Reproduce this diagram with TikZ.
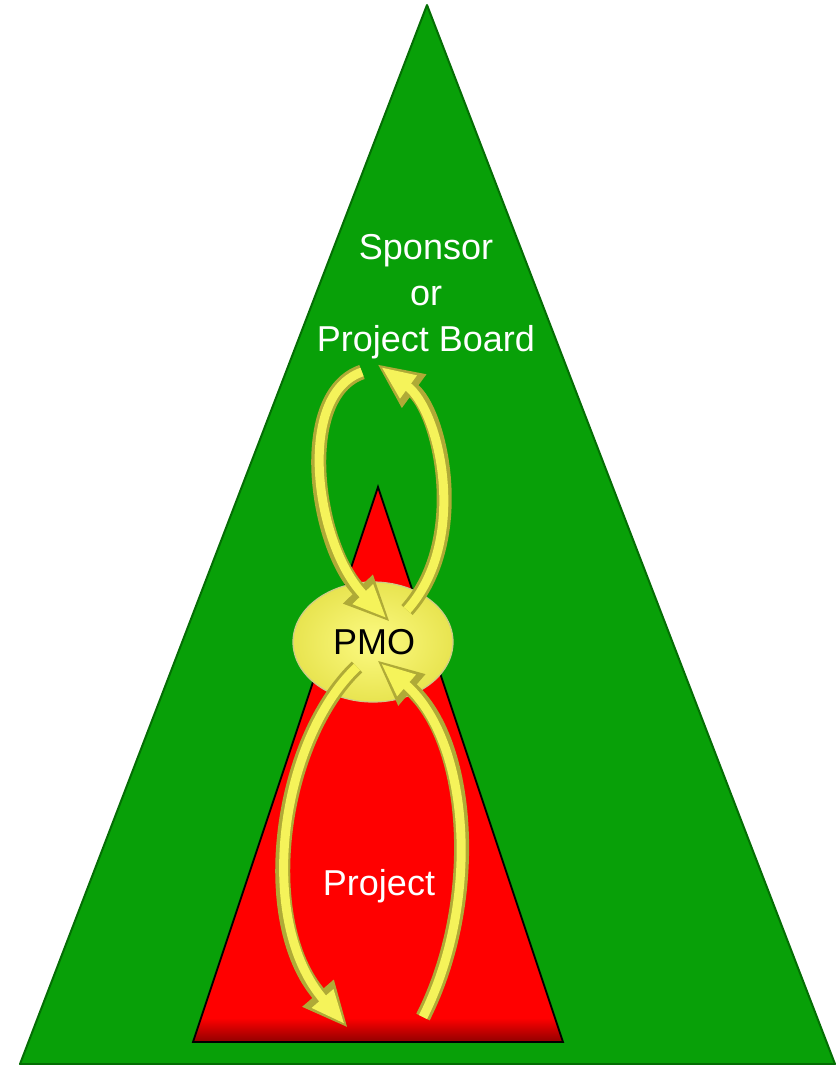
\documentclass[tikz,border=0pt]{standalone}
\usepackage{fontspec}
\setmainfont{Liberation Sans}
\usetikzlibrary{arrows.meta}
\definecolor{grn}{RGB}{8,160,8}
\definecolor{grndark}{RGB}{4,110,4}
\definecolor{yelfill}{RGB}{245,243,90}
\definecolor{yelin}{RGB}{252,250,130}
\definecolor{yeledge}{RGB}{232,228,80}
\definecolor{yeldark}{RGB}{175,170,55}
\definecolor{reddark}{RGB}{140,0,0}
\tikzset{
  lbl/.style={font=\fontsize{36}{44}\selectfont, anchor=base, inner sep=0pt},
  arrout/.style={draw=yeldark, line width=15pt, line cap=butt,
    -{Triangle[width=38pt,length=46pt]}},
  arrin/.style={draw=yelfill, line width=9pt, line cap=butt, shorten >=5pt,
    -{Triangle[width=26pt,length=34pt]}},
}
\begin{document}
\begin{tikzpicture}[x=1pt,y=-1pt]
\useasboundingbox (0,0) rectangle (839,1065);
% green triangle
\coordinate (ga) at (427,5);
\coordinate (gl) at (20,1064);
\coordinate (gr) at (835,1064);
\filldraw[fill=grn, draw=grndark, line width=2pt, line join=round] (ga) -- (gl) -- (gr) -- cycle;
% red triangle
\coordinate (ra) at (378,487);
\coordinate (rl) at (193,1042);
\coordinate (rr) at (563,1042);
\fill[red] (ra) -- (rl) -- (rr) -- cycle;
\begin{scope}
\clip (ra) -- (rl) -- (rr) -- cycle;
\shade[top color=red, bottom color=reddark] (190,1018) rectangle (570,1043);
\end{scope}
\draw[black, line width=1.8pt, line join=miter] (ra) -- (rl) -- (rr) -- cycle;
% PMO ellipse
\shade[inner color=yelin, outer color=yeledge] (373,642) ellipse [x radius=80, y radius=60];
\draw[yeldark!60, line width=1.2pt] (373,642) ellipse [x radius=80, y radius=60];
% arrows: coordinates
\coordinate (a1s) at (362,372);
\coordinate (a1e) at (390,622);
\coordinate (a2s) at (407,610);
\coordinate (a2e) at (377,364);
\coordinate (a3s) at (423,1017);
\coordinate (a3e) at (377,660);
\coordinate (a4s) at (357,667);
\coordinate (a4e) at (348,1028);
% A1 upper left (down into PMO)
\draw[arrout] (a1s) .. controls (295,395) and (315,545) .. (a1e);
\draw[arrin] (a1s) .. controls (295,395) and (315,545) .. (a1e);
% A2 upper right (up to sponsor)
\draw[arrout] (a2s) .. controls (470,540) and (440,410) .. (a2e);
\draw[arrin] (a2s) .. controls (470,540) and (440,410) .. (a2e);
% A3 lower right (up into PMO)
\draw[arrout] (a3s) .. controls (482,900) and (470,740) .. (a3e);
\draw[arrin] (a3s) .. controls (482,900) and (470,740) .. (a3e);
% A4 lower left (down to project)
\draw[arrout] (a4s) .. controls (280,740) and (255,920) .. (a4e);
\draw[arrin] (a4s) .. controls (280,740) and (255,920) .. (a4e);
% labels
\node[lbl, white] (s1) at (426,259) {Sponsor};
\node[lbl, white] (s2) at (426,305) {or};
\node[lbl, white] (s3) at (426,351) {Project Board};
\node[lbl, black] (pmo) at (374,654) {PMO};
\node[lbl, white] (proj) at (379,895) {Project};
\end{tikzpicture}
\end{document}
